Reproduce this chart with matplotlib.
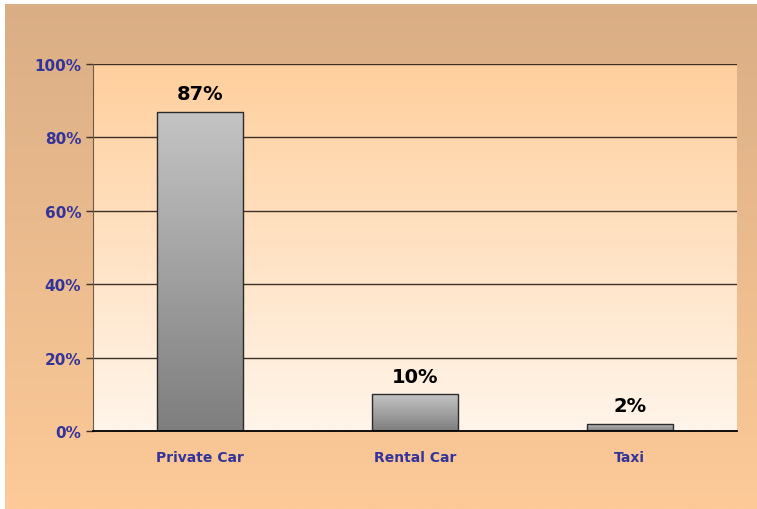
import numpy as np
import matplotlib.pyplot as plt
from matplotlib.colors import LinearSegmentedColormap
from matplotlib.ticker import FuncFormatter

categories = ["Private Car", "Rental Car", "Taxi"]
shares = [87, 10, 2]
labels = ["87%", "10%", "2%"]
y_ticks = [0, 20, 40, 60, 80, 100]

blue = "#333399"

fig = plt.figure(figsize=(7.57, 5.10), dpi=100)
fig.patch.set_facecolor("white")

# background gradient (tan at top -> peach at bottom)
bg = fig.add_axes([5 / 757, 0, 752 / 757, 505 / 510])
bg_cmap = LinearSegmentedColormap.from_list("bg", ["#fdca98", "#daae85"])
bg.imshow(np.linspace(0, 1, 256).reshape(-1, 1)[::-1], aspect="auto", cmap=bg_cmap,
          extent=[0, 1, 0, 1], origin="upper")
bg.set_axis_off()

ax = fig.add_axes([93 / 757, 1 - 432 / 510, 644 / 757, 367 / 510])
x = np.arange(len(categories))
ax.set_xlim(-0.5, len(categories) - 0.5)
ax.set_ylim(0, 100)

# plot area gradient (peach at top -> almost white at bottom)
pa_cmap = LinearSegmentedColormap.from_list("pa", ["#fff5ea", "#ffcf9d"])
ax.imshow(np.linspace(0, 1, 256).reshape(-1, 1), aspect="auto", cmap=pa_cmap,
          extent=[-0.5, len(categories) - 0.5, 0, 100], origin="lower", zorder=0)

ax.set_axisbelow(True)
ax.yaxis.grid(True, color="#3d3028", linewidth=1.0)

bars = ax.bar(x, shares, width=0.4, facecolor="none", edgecolor="#2a2a2a",
              linewidth=1.0, zorder=3)
bar_cmap = LinearSegmentedColormap.from_list("bar", ["#7e7e7e", "#c4c4c4"])
for b in bars:
    im = ax.imshow(np.linspace(0, 1, 256).reshape(-1, 1), aspect="auto", cmap=bar_cmap,
                   extent=[b.get_x(), b.get_x() + b.get_width(), 0, b.get_height()],
                   origin="lower", zorder=2)
    im.set_clip_path(b)

for xi, v, lab in zip(x, shares, labels):
    ax.annotate(lab, (xi, v), xytext=(0, 6), textcoords="offset points",
                ha="center", va="bottom", fontsize=14, fontweight="bold", color="black")

ax.set_xlim(-0.5, len(categories) - 0.5)
ax.set_ylim(0, 100)
ax.set_yticks(y_ticks)
ax.yaxis.set_major_formatter(FuncFormatter(lambda v, p: f"{v:.0f}%"))
ax.set_xticks(x)
ax.set_xticklabels(categories)
ax.tick_params(axis="y", colors="#3d3028", labelcolor=blue, labelsize=11, length=5,
               width=1, direction="out")
ax.tick_params(axis="x", length=0, labelcolor=blue, labelsize=10, pad=14)
for t in ax.get_xticklabels() + ax.get_yticklabels():
    t.set_fontweight("bold")

for s in ["top", "right"]:
    ax.spines[s].set_visible(False)
ax.spines["left"].set_color("#6b5a4e")
ax.spines["bottom"].set_color("black")
ax.spines["bottom"].set_linewidth(1.3)
ax.spines["bottom"].set_zorder(4)

fig.savefig("out.png", dpi=100)
